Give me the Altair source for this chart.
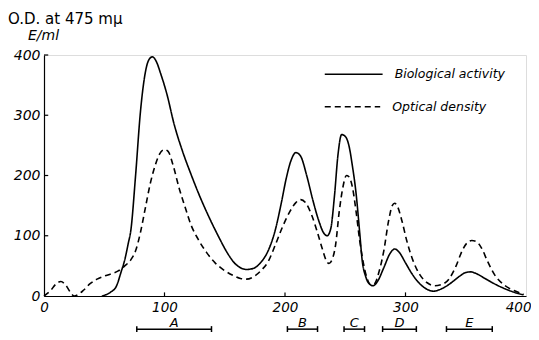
import altair as alt
import pandas as pd

# --- data ---
bio_x = [48, 55, 60, 64, 67, 70, 72, 76, 80, 84, 87, 90, 93, 97, 102, 108, 115, 122, 130, 136,
         145, 152, 158, 163, 168, 174, 180, 186, 192, 197, 201, 205, 209, 213, 218, 223, 228, 232,
         235, 238, 241, 244, 247, 250, 253, 256, 259, 262, 264, 267, 270, 273, 277, 282, 287, 291,
         295, 300, 306, 312, 318, 323, 330, 338, 345, 350, 354, 359, 366, 375, 385, 392, 398]
bio_y = [0, 6, 16, 40, 60, 88, 108, 200, 305, 370, 392, 397, 390, 368, 335, 285, 240, 202, 162, 135,
         98, 72, 55, 47, 44, 46, 56, 75, 110, 155, 195, 225, 238, 232, 200, 160, 125, 105,
         100, 112, 165, 235, 268, 265, 250, 215, 170, 105, 60, 32, 20, 17, 25, 47, 70, 78,
         72, 55, 35, 20, 11, 8, 12, 22, 33, 39, 40, 37, 29, 19, 10, 5, 2]

od_x = [0, 5, 10, 14, 18, 22, 25, 28, 33, 38, 44, 50, 56, 62, 67, 72, 76, 80, 84, 88, 92, 96, 100,
        103, 107, 112, 117, 122, 128, 135, 142, 150, 157, 163, 168, 174, 180, 186, 192, 198, 204,
        209, 213, 217, 222, 227, 231, 234, 236.5, 239, 242, 245, 248, 251, 253, 256, 259, 262, 265,
        268, 271, 274, 278, 282, 286, 289, 291, 293, 297, 301, 306, 312, 318, 324, 330, 336, 342,
        347, 351, 355, 359, 363, 368, 374, 382, 390, 398]
od_y = [0, 8, 20, 24, 18, 6, 0, 2, 10, 20, 28, 33, 37, 42, 50, 60, 75, 105, 145, 185, 215, 236, 243,
        240, 218, 180, 148, 118, 94, 72, 55, 42, 34, 29, 28, 32, 42, 57, 85, 115, 140,
        155, 160, 155, 135, 105, 78, 60, 54, 60, 85, 140, 180, 200, 198, 180, 140, 92, 55,
        30, 19, 20, 40, 75, 125, 150, 154, 150, 125, 92, 60, 35, 22, 17, 19, 28, 50,
        75, 88, 92, 90, 80, 58, 35, 18, 9, 3]

series_names = ["Biological activity", "Optical density"]
fractions = ["A", "B", "C", "D", "E"]
frac_start = [77, 202, 249, 281, 334]
frac_end = [139, 227, 266, 309, 372]
x_ticks = [0, 100, 200, 300, 400]
y_ticks = [0, 100, 200, 300, 400]
title_lines = ["O.D. at 475 mμ", "E/ml"]

FONT = "DejaVu Sans"

# --- tables ---
lines = pd.DataFrame(
    [{"series": series_names[0], "x": x, "y": y, "o": i} for i, (x, y) in enumerate(zip(bio_x, bio_y))]
    + [{"series": series_names[1], "x": x, "y": y, "o": i} for i, (x, y) in enumerate(zip(od_x, od_y))]
)

xs = alt.Scale(domain=[0, 400], nice=False, zero=False)
ys = alt.Scale(domain=[0, 400], nice=False, zero=False)
dash = alt.Scale(domain=series_names, range=[[1, 0], [6, 4]])

curves = alt.Chart(lines).mark_line(color="black", strokeWidth=1.6, interpolate="monotone").encode(
    x=alt.X("x:Q", scale=xs, axis=alt.Axis(
        values=x_ticks, ticks=False, tickSize=0, grid=False, labelFlush=False,
        labelFontStyle="italic", labelFontSize=13.5, labelFont=FONT, labelColor="black", labelPadding=4,
        labelAlign={"condition": {"test": "datum.value == 400", "value": "right"}, "value": "center"},
        labelOffset={"condition": {"test": "datum.value == 400", "value": 5}, "value": 0},
        domainColor="black", domainWidth=1.2, title=None)),
    y=alt.Y("y:Q", scale=ys, axis=alt.Axis(
        values=y_ticks, ticks=False, tickSize=0, grid=False,
        labelFontStyle="italic", labelFontSize=14, labelFont=FONT,
        labelColor="black", labelPadding=4,
        domainColor="black", domainWidth=1.2, title=None)),
    strokeDash=alt.StrokeDash("series:N", scale=dash, legend=None),
    order="o:Q",
    detail="series:N",
)

# inward ticks
ytk = pd.DataFrame({"y": y_ticks[1:], "x0": [0] * 4, "x1": [3.5] * 4})
ytick_layer = alt.Chart(ytk).mark_rule(color="black", strokeWidth=1.2).encode(
    x=alt.X("x0:Q", scale=xs), x2="x1:Q", y=alt.Y("y:Q", scale=ys))
xtk = pd.DataFrame({"x": x_ticks[1:4], "y0": [0] * 3, "y1": [6] * 3})
xtick_layer = alt.Chart(xtk).mark_rule(color="black", strokeWidth=1.2).encode(
    x=alt.X("x:Q", scale=xs), y=alt.Y("y0:Q", scale=ys), y2="y1:Q")

# fraction bars
fr = pd.DataFrame({"name": fractions, "s": frac_start, "e": frac_end})
fr["mid"] = (fr["s"] + fr["e"]) / 2
fr["yb"] = -55
fr["yc0"] = -50
fr["yc1"] = -60
fr["yl"] = -51.5
bars = alt.Chart(fr).mark_rule(color="black", strokeWidth=1.5).encode(
    x=alt.X("s:Q", scale=xs), x2="e:Q", y=alt.Y("yb:Q", scale=ys))
caps_l = alt.Chart(fr).mark_rule(color="black", strokeWidth=1.5).encode(
    x=alt.X("s:Q", scale=xs), y=alt.Y("yc0:Q", scale=ys), y2="yc1:Q")
caps_r = alt.Chart(fr).mark_rule(color="black", strokeWidth=1.5).encode(
    x=alt.X("e:Q", scale=xs), y=alt.Y("yc0:Q", scale=ys), y2="yc1:Q")
flabels = alt.Chart(fr).mark_text(font=FONT, fontSize=13, fontStyle="italic", color="black",
                                  baseline="alphabetic", align="center").encode(
    x=alt.X("mid:Q", scale=xs), y=alt.Y("yl:Q", scale=ys), text="name:N")

# legend drawn manually
lg = pd.DataFrame({"series": series_names, "x0": [233, 233], "x1": [281, 279],
                   "y": [368, 314], "tx": [291, 289]})
lg_lines = alt.Chart(lg).mark_rule(color="black", strokeWidth=1.5).encode(
    x=alt.X("x0:Q", scale=xs), x2="x1:Q", y=alt.Y("y:Q", scale=ys),
    strokeDash=alt.StrokeDash("series:N", scale=dash, legend=None))
lg_text = alt.Chart(lg).mark_text(font=FONT, fontSize=12.5, fontStyle="italic", color="black",
                                  align="left", baseline="middle").encode(
    x=alt.X("tx:Q", scale=xs), y=alt.Y("y:Q", scale=ys), text="series:N")

# axis title (two lines)
t1 = alt.Chart(pd.DataFrame({"t": [title_lines[0]]})).mark_text(
    font=FONT, fontSize=15, color="black", align="left", baseline="alphabetic").encode(
    x=alt.value(-36), y=alt.value(-31), text="t:N")
t2 = alt.Chart(pd.DataFrame({"t": [title_lines[1]]})).mark_text(
    font=FONT, fontSize=14, fontStyle="italic", color="black", align="left", baseline="alphabetic").encode(
    x=alt.value(-16), y=alt.value(-15), text="t:N")

chart = alt.layer(curves, ytick_layer, xtick_layer, bars, caps_l, caps_r, flabels,
                  lg_lines, lg_text, t1, t2).properties(
    width=482, height=241,
    autosize=alt.AutoSizeParams(type="none"),
    padding={"left": 36, "top": 47, "right": 5, "bottom": 36},
).configure_view(stroke=None).configure(background="white")

chart.save("out.html", embed_options={"renderer": "svg", "actions": False})
